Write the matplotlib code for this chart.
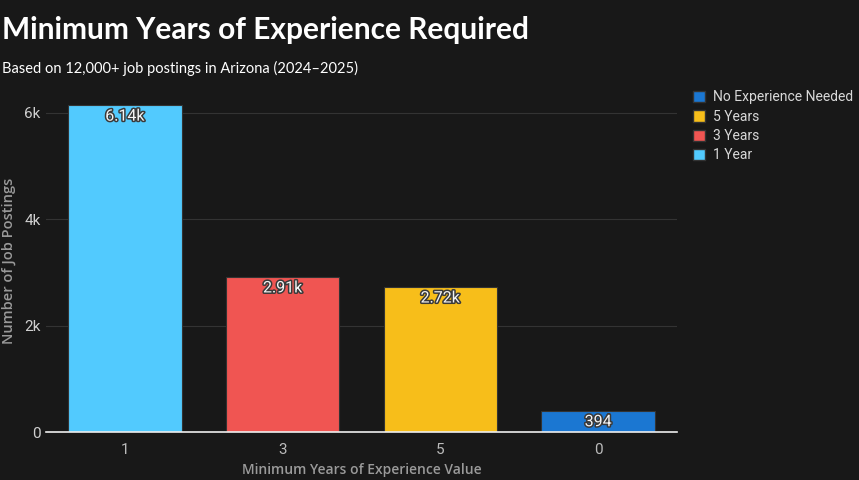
import matplotlib
matplotlib.use('Agg')
import matplotlib.pyplot as plt
import matplotlib.patheffects as pe
from matplotlib.patches import Patch

# data
categories = ['1', '3', '5', '0']
counts = [6140, 2910, 2720, 394]
bar_labels = ['6.14k', '2.91k', '2.72k', '394']
colors = ['#52CAFE', '#F05552', '#F7BE1A', '#1B77D2']
legend_names = ['No Experience Needed', '5 Years', '3 Years', '1 Year']
legend_colors = ['#1B77D2', '#F7BE1A', '#F05552', '#52CAFE']
yticks = [0, 2000, 4000, 6000]
ytick_labels = ['0', '2k', '4k', '6k']

BG = '#181818'

fig = plt.figure(figsize=(8.59, 4.8), dpi=100, facecolor=BG)
ax = fig.add_axes([46 / 859, 1 - 432 / 480, 631 / 859, 343 / 480])
ax.set_facecolor(BG)

x = range(len(categories))
ax.bar(x, counts, width=0.72, color=colors, edgecolor='#333333',
       linewidth=0.8, zorder=3)

for i, (v, lab) in enumerate(zip(counts, bar_labels)):
    ax.text(i, v - 60, lab, ha='center', va='top', fontsize=11.5,
            color='#f4f4f4', family='Roboto', zorder=4,
            path_effects=[pe.withStroke(linewidth=2.2, foreground='#3a3a3a')])

ax.set_xlim(-0.5, 3.5)
ax.set_ylim(0, 6450)
ax.set_xticks(list(x))
ax.set_xticklabels(categories)
ax.set_yticks(yticks)
ax.set_yticklabels(ytick_labels)
ax.tick_params(axis='x', length=0, pad=8, labelsize=11, labelcolor='#bbbbbb')
ax.tick_params(axis='y', length=0, pad=4, labelsize=11, labelcolor='#d0d0d0')
for lab in ax.get_xticklabels() + ax.get_yticklabels():
    lab.set_family('Roboto')

ax.grid(axis='y', color='#333333', linewidth=0.8, zorder=0)
for s in ['top', 'right', 'left']:
    ax.spines[s].set_visible(False)
ax.spines['bottom'].set_color('#eeeeee')
ax.spines['bottom'].set_linewidth(1.2)
ax.spines['bottom'].set_zorder(5)

ax.set_xlabel('Minimum Years of Experience Value', fontsize=10,
              color='#9a9a9a', family='Open Sans', labelpad=4,
              fontweight='semibold')
ax.set_ylabel('Number of Job Postings', fontsize=10.5, color='#9a9a9a',
              family='Open Sans', labelpad=6, fontweight='semibold')

fig.text(2 / 859, 1 - 39 / 480, 'Minimum Years of Experience Required',
         fontsize=21.5, fontweight='bold', color='white', family='Lato')
fig.text(2 / 859, 1 - 73 / 480, 'Based on 12,000+ job postings in Arizona (2024\u20132025)',
         fontsize=10.5, color='white', family='Lato')

handles = [Patch(facecolor=c, edgecolor='#333333') for c in legend_colors]
leg = fig.legend(handles, legend_names, loc='upper left',
                 bbox_to_anchor=(680 / 859, 1 - 78 / 480), frameon=False,
                 handlelength=0.9, handleheight=0.9, handletextpad=0.6,
                 labelspacing=0.38, prop={'family': 'Roboto', 'size': 10})
for t in leg.get_texts():
    t.set_color('#d8d8d8')

fig.savefig('out.png', dpi=100, facecolor=BG)
